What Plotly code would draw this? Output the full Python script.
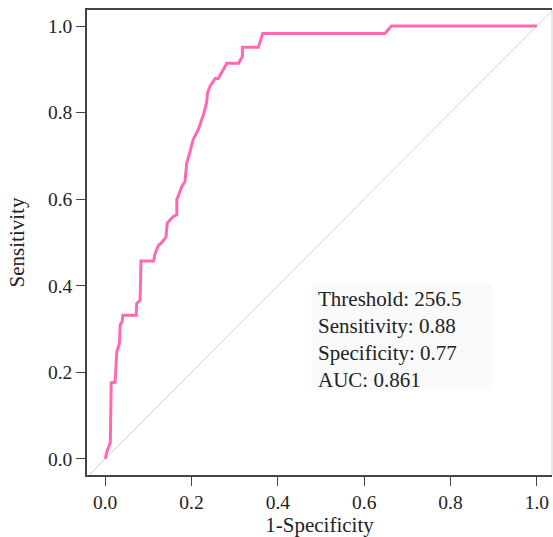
import plotly.graph_objects as go

# ROC curve points
fpr = [0, 0.005, 0.012, 0.014, 0.023, 0.027, 0.033, 0.035, 0.039, 0.041, 0.072, 0.073,
       0.081, 0.083, 0.112, 0.116, 0.123, 0.133, 0.141, 0.144, 0.158, 0.166, 0.166,
       0.178, 0.185, 0.189, 0.197, 0.204, 0.216, 0.228, 0.235, 0.237, 0.243, 0.255,
       0.262, 0.272, 0.282, 0.309, 0.318, 0.318, 0.355, 0.365, 0.648, 0.663, 1.0]
sens = [0, 0.019, 0.038, 0.176, 0.177, 0.247, 0.266, 0.31, 0.316, 0.332, 0.332, 0.359,
        0.367, 0.457, 0.457, 0.475, 0.493, 0.502, 0.513, 0.545, 0.560, 0.564, 0.599,
        0.630, 0.641, 0.684, 0.711, 0.738, 0.761, 0.796, 0.823, 0.845, 0.861, 0.879,
        0.879, 0.896, 0.914, 0.914, 0.93, 0.951, 0.951, 0.983, 0.983, 1.0, 1.0]
ref_line = [-0.1, 1.1]
stats = ["Threshold: 256.5", "Sensitivity: 0.88", "Specificity: 0.77", "AUC: 0.861"]
ticks = [0.0, 0.2, 0.4, 0.6, 0.8, 1.0]

font = "Liberation Serif, Times New Roman, serif"

fig = go.Figure()
fig.add_trace(go.Scatter(x=ref_line, y=ref_line, mode="lines",
                         line=dict(color="#d3d3d3", width=1), hoverinfo="skip"))
fig.add_trace(go.Scatter(x=fpr, y=sens, mode="lines",
                         line=dict(color="#ff69b4", width=3)))

# stats box
fig.add_shape(type="rect", xref="x", yref="y", x0=0.478, x1=0.895, y0=0.16, y1=0.405,
              fillcolor="#fafafa", line=dict(width=0), layer="below")
for i, s in enumerate(stats):
    fig.add_annotation(x=0.488, y=0.37 - i * 0.0625, xref="x", yref="y", text=s,
                       showarrow=False, xanchor="left", yanchor="middle",
                       font=dict(family=font, size=21, color="#222"))

# light right border
fig.add_shape(type="line", xref="paper", yref="paper", x0=1, x1=1, y0=0, y1=1,
              line=dict(color="#d0d0d0", width=1))

axis = dict(tickvals=ticks, ticktext=[f"{t:.1f}" for t in ticks], ticks="outside",
            ticklen=9, tickcolor="#444", showline=True, linecolor="#444", linewidth=1.5,
            showgrid=False, zeroline=False,
            tickfont=dict(family=font, size=19.5, color="#222"))

fig.update_layout(
    width=553, height=537,
    margin=dict(l=87, r=1, t=10, b=62),
    paper_bgcolor="white", plot_bgcolor="white",
    showlegend=False,
    xaxis=dict(axis, range=[-0.042, 1.035], mirror=True,
               title=dict(text="1-Specificity", font=dict(family=font, size=21, color="#222"),
                          standoff=2)),
    yaxis=dict(axis, range=[-0.037, 1.037],
               title=dict(text="Sensitivity", font=dict(family=font, size=21, color="#222"),
                          standoff=18)),
)

# drop the default body margin so the figure fills the window exactly
fig.write_html("out.html", config={"displayModeBar": False},
               post_script="document.body.style.margin='0';document.body.style.overflow='hidden';")
